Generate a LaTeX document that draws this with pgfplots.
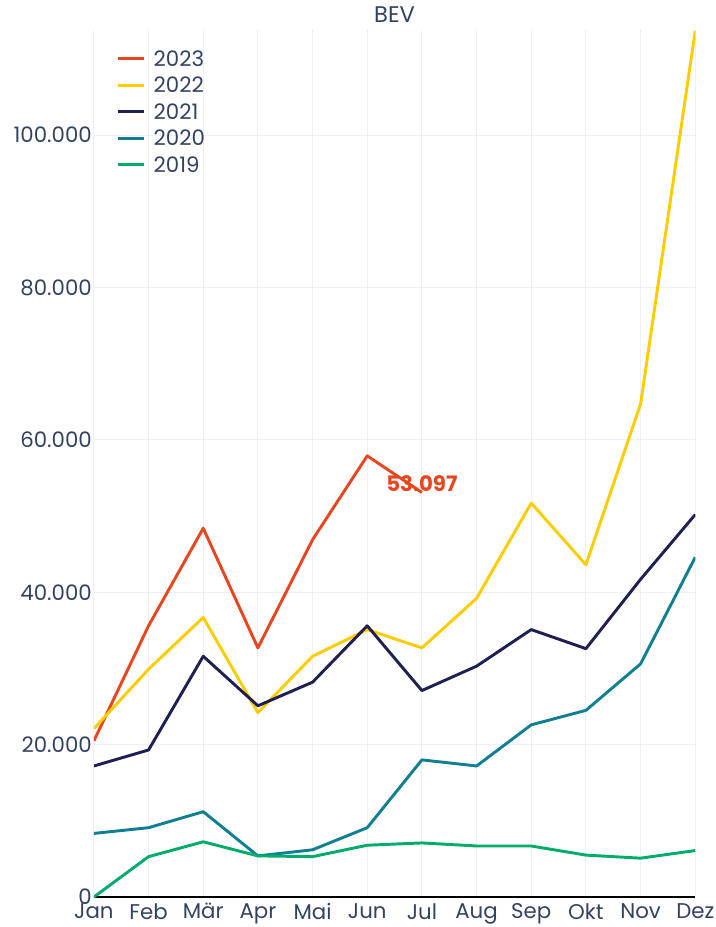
\documentclass[border=0pt]{standalone}
\usepackage{fontspec}
\setmainfont{Poppins}
\usepackage{pgfplots}
\pgfplotsset{compat=1.18}
\definecolor{txt}{RGB}{52,66,98}
\definecolor{gridc}{RGB}{236,240,247}
\definecolor{c23}{RGB}{232,70,30}
\definecolor{c22}{RGB}{255,204,0}
\definecolor{c21}{RGB}{31,31,82}
\definecolor{c20}{RGB}{16,127,146}
\definecolor{c19}{RGB}{0,172,108}
\newcommand{\fs}{\fontsize{16}{18}\selectfont}

\begin{document}
\begin{tikzpicture}
\useasboundingbox (-70.5pt,-22.5pt) rectangle (466.5pt,673.5pt);
\begin{axis}[
  scale only axis,
  width=451.5pt, height=651pt,
  xmin=0, xmax=11, ymin=0, ymax=113800,
  xtick={0,...,11},
  xticklabels={Jan,Feb,Mär,Apr,Mai,Jun,Jul,Aug,Sep,Okt,Nov,Dez},
  ytick={0,20000,40000,60000,80000,100000},
  yticklabels={0,20.000,40.000,60.000,80.000,100.000},
  scaled y ticks=false,
  major tick length=0pt,
  tick label style={font=\fs, text=txt},
  yticklabel style={xshift=2pt},
  xticklabel style={inner ysep=0.5pt, yshift=-4pt},
  axis line style={draw=none},
  grid=major, grid style={gridc, line width=0.75pt},
  clip mode=individual,
  legend style={at={(0,1)}, anchor=north west, xshift=14pt, yshift=-13.5pt,
                draw=none, fill=none, font=\fs,
                text=txt, row sep=8.2pt,
                nodes={inner sep=0pt, text height=11.7pt, text depth=0pt},
                /tikz/every odd column/.append style={column sep=6pt}},
  legend cell align=left,
  legend image code/.code={\draw[#1, line width=2.2pt] (0pt,0pt) -- (19.5pt,0pt);},
  every axis plot/.append style={line width=2.2pt, mark=none, line join=round},
]
\draw[black, line width=1.6pt] (axis cs:0,0) -- (axis cs:11,0);

\addplot[c23] coordinates {(0,20500)(1,35600)(2,48400)(3,32700)(4,46900)(5,57900)(6,53097)};
\addlegendentry{2023}
\addplot[c22] coordinates {(0,22100)(1,29900)(2,36700)(3,24200)(4,31600)(5,35100)(6,32700)(7,39200)(8,51700)(9,43600)(10,64700)(11,113700)};
\addlegendentry{2022}
\addplot[c21] coordinates {(0,17200)(1,19300)(2,31600)(3,25100)(4,28200)(5,35600)(6,27100)(7,30300)(8,35100)(9,32600)(10,41700)(11,50200)};
\addlegendentry{2021}
\addplot[c20] coordinates {(0,8350)(1,9100)(2,11200)(3,5400)(4,6200)(5,9100)(6,18000)(7,17200)(8,22600)(9,24500)(10,30600)(11,44600)};
\addlegendentry{2020}
\addplot[c19] coordinates {(0,0)(1,5300)(2,7250)(3,5400)(4,5300)(5,6800)(6,7100)(7,6700)(8,6700)(9,5500)(10,5100)(11,6100)};
\addlegendentry{2019}

\node[text=c23, font=\bfseries\fs, yshift=7pt] at (axis cs:6,53097) {53.097};
\node[text=txt, font=\fontsize{17}{19}\selectfont, anchor=center, yshift=11.5pt] at (rel axis cs:0.5,1) {BEV};
\end{axis}
\end{tikzpicture}
\end{document}
